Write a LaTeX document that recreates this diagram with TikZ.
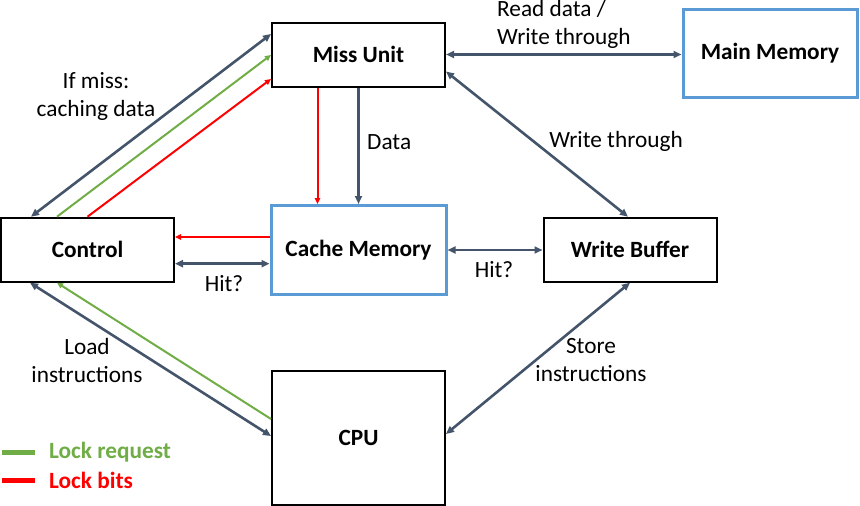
\documentclass[tikz,border=0pt]{standalone}
\usepackage{fontspec}
\setmainfont{Carlito}
\usepackage{tikz}
\usetikzlibrary{arrows.meta}
\definecolor{slate}{HTML}{44546A}
\definecolor{memblue}{HTML}{5B9BD5}
\definecolor{lockgreen}{HTML}{70AD47}
\definecolor{lockred}{HTML}{FF0000}

\begin{document}
\begin{tikzpicture}[
        x=1pt, y=-1pt,
        every node/.style={font=\fontsize{23.3}{28}\selectfont, align=center, inner sep=0pt},
        unit/.style={draw=black, line width=2pt, minimum width=173pt, minimum height=64pt, font=\fontsize{23.3}{28}\selectfont\bfseries},
        mem/.style={unit, draw=memblue, line width=3pt, minimum width=174pt, minimum height=88pt},
        bus/.style={draw=slate, line width=2.6pt, {Triangle[length=8pt,width=7pt]}-{Triangle[length=8pt,width=7pt]}},
        data_line/.style={draw=slate, line width=2.6pt, -{Triangle[length=8pt,width=7pt]}},
        lock_req/.style={draw=lockgreen, line width=2pt, -{Triangle[length=6pt,width=5.5pt]}},
        lock_bits/.style={draw=lockred, line width=2pt, -{Triangle[length=6pt,width=5.5pt]}},
        legend/.style={anchor=west, font=\fontsize{23.3}{28}\selectfont\bfseries}
    ]
    \useasboundingbox (0,0) rectangle (860,506);

    \node[unit] (miss) at (358.5,54.5) {Miss Unit};
    \node[mem] (main) at (770,53.5) {Main Memory};
    \node[unit] (ctrl) at (87.5,249.7) {Control};
    \node[mem, minimum width=175pt, minimum height=89pt] (cache) at (358.5,250) {Cache Memory};
    \node[unit] (wbuf) at (630,249.7) {Write Buffer};
    \node[unit, minimum height=134pt] (cpu) at (358.5,438) {CPU};

    \draw[bus] (miss.east) -- (miss.east -| main.west);
    \draw[lock_bits] ([xshift=-41pt]miss.south) -- ([xshift=-41pt]cache.north);
    \draw[data_line] (miss.south) -- (cache.north);
    \draw[bus] ([xshift=31pt]ctrl.north west) -- ([yshift=-12.5pt]miss.north west);
    \draw[lock_req] ([xshift=57pt]ctrl.north west) -- ([yshift=-33.5pt]miss.north west);
    \draw[lock_bits] (ctrl.north) -- ([yshift=-57.5pt]miss.north west);
    \draw[lock_bits] ([yshift=13pt]cache.west) -- ([yshift=13pt]cache.west -| ctrl.east);
    \draw[bus] ([yshift=-14pt]ctrl.east) -- ([yshift=-14pt]ctrl.east -| cache.west);
    \draw[bus] (cache.east) -- (cache.east -| wbuf.west);
    \draw[bus] ([yshift=-17pt]miss.east) -- ([xshift=-2pt]wbuf.north);
    \draw[bus] ([xshift=30pt]ctrl.south west) -- ([yshift=-66pt]cpu.north west);
    \draw[lock_req] ([yshift=-49pt]cpu.north west) -- ([xshift=57pt]ctrl.south west);
    \draw[bus] (wbuf.south) -- ([yshift=-64pt]cpu.north east);

    \node[anchor=west, align=left] (rw_lbl) at (497,24) {Read data /\\Write through};
    \node (miss_lbl) at (96,96) {If miss:\\caching data};
    \node[anchor=west] (data_lbl) at (367,142) {Data};
    \node (wt_lbl) at (616,141) {Write through};
    \node (hit_ctrl) at (224,284) {Hit?};
    \node (hit_wbuf) at (494,270) {Hit?};
    \node (load_lbl) at (87,360) {Load\\instructions};
    \node (store_lbl) at (591,360) {Store\\instructions};

    \node[legend, text=lockgreen] (leg_req) at (49,452) {Lock request};
    \node[legend, text=lockred] (leg_bits) at (49,480) {Lock bits};
    \draw[lockgreen, line width=5pt] ([xshift=-14pt]leg_req.west) -- ++(-33,0);
    \draw[lockred, line width=5pt] ([xshift=-14pt]leg_bits.west) -- ++(-33,0);
\end{tikzpicture}
\end{document}
